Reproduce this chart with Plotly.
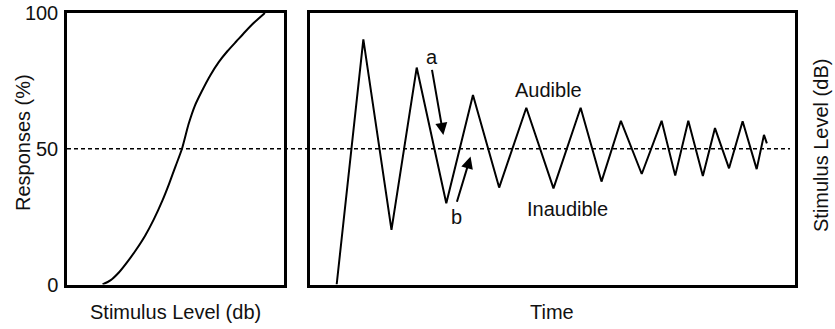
import plotly.graph_objects as go

# ---- data ----
# Left panel: psychometric function (stimulus level 0-100 arbitrary, responses %)
stim_level = [16.4, 20, 24, 28, 32, 36, 40, 44, 47, 50, 53, 56, 59, 62, 66, 70, 74, 78, 82, 86, 91.2]
responses = [0, 1.5, 4.5, 8.5, 13, 18, 24, 31, 37, 43.5, 50, 59, 66, 71, 77, 82, 86, 89.5, 93, 96.3, 100]

# Right panel: adaptive staircase (time arbitrary 0-100, stimulus level 0-100)
time_pts = [5.5, 11.0, 16.8, 22.0, 28.1, 33.6, 39.0, 44.6, 50.2, 55.8, 60.1, 64.1, 68.4, 72.5,
            75.3, 78.0, 81.0, 83.5, 86.4, 89.2, 92.1, 93.6, 94.2]
level_pts = [0, 90.3, 20.1, 79.9, 29.9, 69.8, 35.7, 65.1, 35.4, 65.1, 37.9, 60.3, 40.7, 60.3,
             40.1, 60.3, 40.0, 57.6, 42.8, 60.1, 42.5, 55.1, 52.0]

threshold = 50
y_tickvals = [0, 50, 100]
y_ticktext = ["0", "50", "100"]

# annotation anchors (time, level)
arrow_a = dict(tail=(25.1, 79.6), tip=(27.5, 55.1))
arrow_b = dict(tail=(30.2, 29.9), tip=(33.1, 47.1))
labels = [("a", 25.1, 83.9), ("b", 30.2, 25.0), ("Audible", 49.1, 71.6), ("Inaudible", 53.1, 27.8)]

# ---- layout geometry (pixels) ----
W, H = 835, 329
FONT = "Liberation Sans, Arial, Helvetica, sans-serif"
FS = 20
TXT = "#111"

def px_x(p):
    return p / W

def px_y(p):
    return 1 - p / H

fig = go.Figure()

fig.add_trace(go.Scatter(x=stim_level, y=responses, mode="lines",
                         line=dict(color="black", width=2, shape="spline", smoothing=0.5),
                         xaxis="x", yaxis="y", showlegend=False, hoverinfo="skip"))
fig.add_trace(go.Scatter(x=time_pts, y=level_pts, mode="lines", line=dict(color="black", width=2),
                         xaxis="x2", yaxis="y2", showlegend=False, hoverinfo="skip"))

axis_common = dict(showgrid=False, zeroline=False, showline=True, linecolor="black", linewidth=2.5,
                   mirror=True, ticks="", automargin=False)

fig.update_layout(
    template="none",
    width=W, height=H,
    margin=dict(l=0, r=0, t=0, b=0, pad=0),
    paper_bgcolor="white", plot_bgcolor="white",
    font=dict(family=FONT, size=FS, color=TXT),
    xaxis=dict(domain=[px_x(67), px_x(284)], range=[0, 100], showticklabels=False, **axis_common),
    yaxis=dict(domain=[px_y(284.5), px_y(13)], range=[0, 100], tickvals=y_tickvals, ticktext=y_ticktext,
               ticklabelstandoff=2, tickfont=dict(size=FS, color=TXT), **axis_common),
    xaxis2=dict(domain=[px_x(310), px_x(795)], range=[0, 100], showticklabels=False, anchor="y2", **axis_common),
    yaxis2=dict(domain=[px_y(284.5), px_y(13)], range=[0, 100], showticklabels=False, anchor="x2", **axis_common),
)

# threshold dashed line spanning both panels
fig.add_shape(type="line", xref="paper", yref="y", x0=px_x(67), x1=px_x(790), y0=threshold, y1=threshold,
              line=dict(color="black", width=1.5, dash="4px,3px"))

# arrows
for arr in (arrow_a, arrow_b):
    fig.add_annotation(x=arr["tip"][0], y=arr["tip"][1], ax=arr["tail"][0], ay=arr["tail"][1],
                       xref="x2", yref="y2", axref="x2", ayref="y2", showarrow=True, text="",
                       arrowhead=2, arrowsize=1.2, arrowwidth=2, arrowcolor="black")

for txt, tx, ty in labels:
    fig.add_annotation(x=tx, y=ty, xref="x2", yref="y2", text=txt, showarrow=False,
                       xanchor="center", yanchor="middle", font=dict(size=FS, color=TXT))

# axis titles
titles = [("Responses (%)", 23, 143, -90), ("Stimulus Level (db)", 175.5, 312, 0),
          ("Time", 552, 312, 0), ("Stimulus Level (dB)", 821, 146, -90)]
for txt, px, py, ang in titles:
    fig.add_annotation(x=px_x(px), y=px_y(py), xref="paper", yref="paper", text=txt, textangle=ang,
                       xanchor="center", yanchor="middle", showarrow=False, borderpad=0,
                       font=dict(size=FS, color=TXT))

fig.write_html("out.html")
